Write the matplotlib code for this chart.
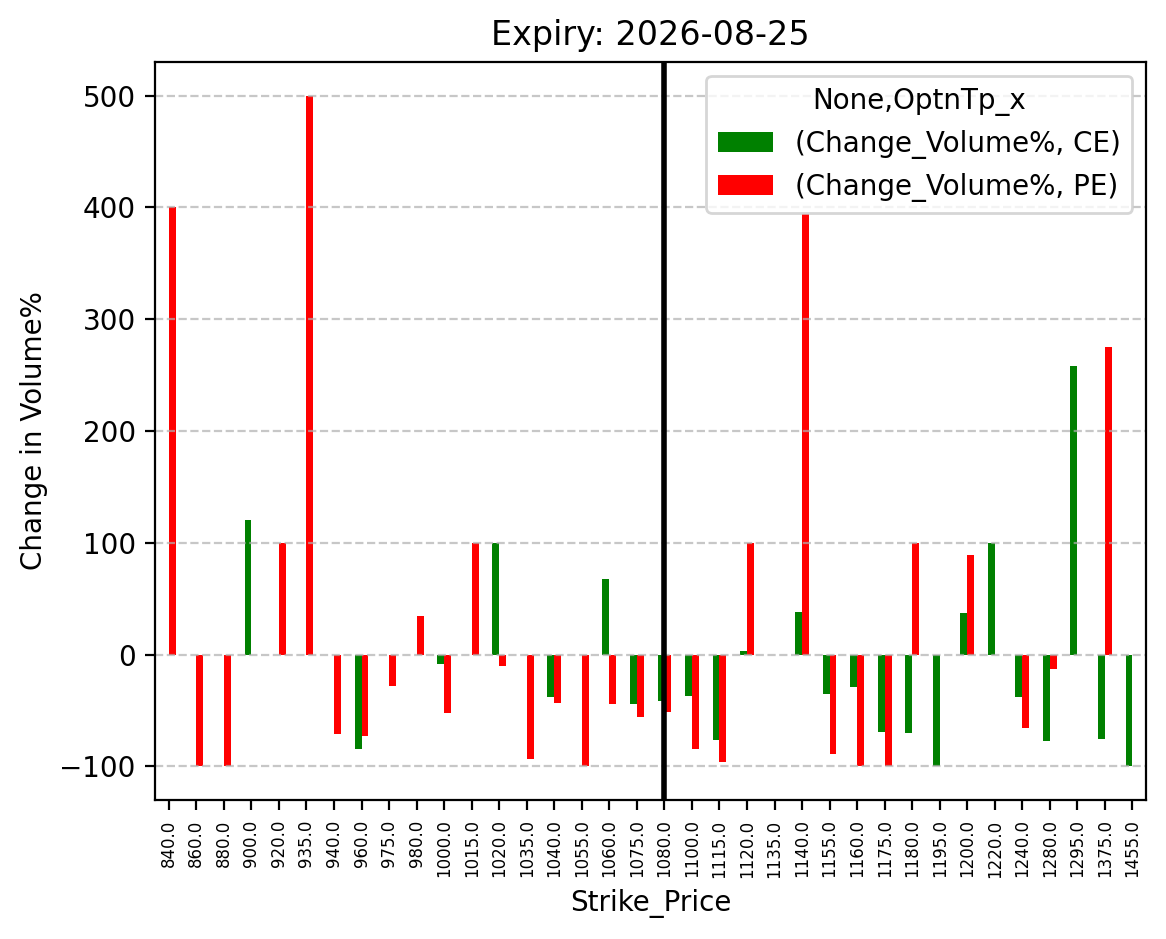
import numpy as np
import matplotlib
matplotlib.use('Agg')

import matplotlib.pyplot as plt

nan = np.nan

strikes = [840, 860, 880, 900, 920, 935, 940, 960, 975, 980, 1000, 1015,
           1020, 1035, 1040, 1055, 1060, 1075, 1080, 1100, 1115, 1120, 1135, 1140,
           1155, 1160, 1175, 1180, 1195, 1200, 1220, 1240, 1280, 1295, 1375, 1455]

# Change_Volume% for calls (CE) and puts (PE)
ce_change = [nan, nan, nan, 120, nan, nan, nan, -84, nan, nan, -8, nan,
             100, nan, -38, nan, 67.6, -43.8, -41, -36.6, -76, 3.3, nan, 38,
             -35, -28.6, -69, -70.5, -100, 37.5, 100, -37.5, -77, 258, -75, -100]
pe_change = [400, -100, -100, nan, 100, 500, -71.4, -72.3, -27.7, 34.5, -52, 100,
             -10, -93, -43, -100, -44, -55.4, -51, -84, -96.4, 100, nan, 394,
             -88.4, -100, -100, 100, nan, 89, nan, -66, -12.5, nan, 275, nan]

spot_strike = 1080


def main():
    fig, ax = plt.subplots(figsize=(5.83, 4.695), dpi=200)
    fig.subplots_adjust(left=0.133, right=0.983, top=0.934, bottom=0.148)

    ind = np.arange(len(strikes))
    width = 0.25

    # grouped bars like pandas df.plot(kind='bar')
    ax.bar(ind - width / 2, ce_change, width, color='green',
           label='(Change_Volume%, CE)')
    ax.bar(ind + width / 2, pe_change, width, color='red',
           label='(Change_Volume%, PE)')

    ax.set_xlim(-0.5, len(strikes) - 0.5)
    ax.set_xticks(ind)
    ax.set_xticklabels([f"{s:.1f}" for s in strikes], rotation=90, fontsize=6)

    # mark current strike
    ax.axvline(strikes.index(spot_strike), color='black', linewidth=2)

    ax.grid(axis='y', linestyle='--', alpha=0.7)
    ax.set_title("Expiry: 2026-08-25")
    ax.set_xlabel("Strike_Price")
    ax.set_ylabel("Change in Volume%")
    ax.legend(title="None,OptnTp_x", loc='upper right')

    fig.savefig("out.png", dpi=200)

main()
